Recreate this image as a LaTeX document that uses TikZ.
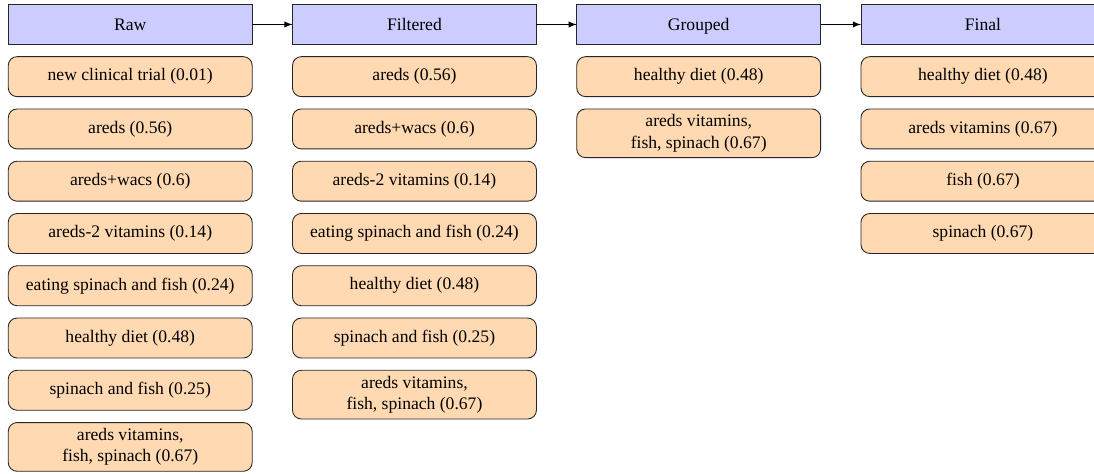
\documentclass[tikz,border=0pt]{standalone}
\usepackage{fontspec}
\setmainfont{Liberation Serif}
\usetikzlibrary{positioning}
\tikzset{
  hdr/.style={draw=black!85, fill=blue!20, line width=0.5pt, outer sep=0pt, minimum width=138.6pt, minimum height=22.6pt, inner sep=3pt, font=\rmfamily\normalsize, text height=6.6pt, text depth=0pt},
  item/.style={draw=black!85, fill=orange!30, line width=0.5pt, outer sep=0pt, rounded corners=5pt, minimum width=138.6pt, minimum height=22.7pt, inner sep=3.3pt, align=center, font=\rmfamily\normalsize},
  flow/.style={-latex, line width=0.6pt, black}
}
\begin{document}
\begin{tikzpicture}[node distance=7pt]
\useasboundingbox (0,0) rectangle (621.6pt,-268.8pt);
% headers
\node[hdr, anchor=north west] (raw) at (4.7pt,-2.6pt) {Raw};
\node[hdr, right=22.9pt of raw] (filt) {Filtered};
\node[hdr, right=22.9pt of filt] (grp) {Grouped};
\node[hdr, right=22.9pt of grp] (fin) {Final};
\draw[flow] (raw) -- (filt);
\draw[flow] (filt) -- (grp);
\draw[flow] (grp) -- (fin);
% Raw column
\node[item, below=of raw] (r1) {new clinical trial (0.01)};
\node[item, below=of r1] (r2) {areds (0.56)};
\node[item, below=of r2] (r3) {areds+wacs (0.6)};
\node[item, below=of r3] (r4) {areds-2 vitamins (0.14)};
\node[item, below=of r4] (r5) {eating spinach and fish (0.24)};
\node[item, below=of r5] (r6) {healthy diet (0.48)};
\node[item, below=of r6] (r7) {spinach and fish (0.25)};
\node[item, below=of r7] (r8) {areds vitamins,\\fish, spinach (0.67)};
% Filtered column
\node[item, below=of filt] (f1) {areds (0.56)};
\node[item, below=of f1] (f2) {areds+wacs (0.6)};
\node[item, below=of f2] (f3) {areds-2 vitamins (0.14)};
\node[item, below=of f3] (f4) {eating spinach and fish (0.24)};
\node[item, below=of f4] (f5) {healthy diet (0.48)};
\node[item, below=of f5] (f6) {spinach and fish (0.25)};
\node[item, below=of f6] (f7) {areds vitamins,\\fish, spinach (0.67)};
% Grouped column
\node[item, below=of grp] (g1) {healthy diet (0.48)};
\node[item, below=of g1] (g2) {areds vitamins,\\fish, spinach (0.67)};
% Final column
\node[item, below=of fin] (n1) {healthy diet (0.48)};
\node[item, below=of n1] (n2) {areds vitamins (0.67)};
\node[item, below=of n2] (n3) {fish (0.67)};
\node[item, below=of n3] (n4) {spinach (0.67)};
\end{tikzpicture}
\end{document}
